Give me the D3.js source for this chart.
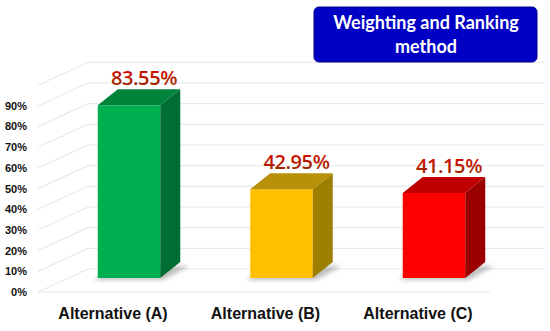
<!DOCTYPE html>
<html>
<head>
<meta charset="utf-8">
<script src="https://cdn.jsdelivr.net/npm/d3@7"></script>
<style>
	body { margin: 0; background: #fff; }
	svg { display: block; }
</style>
</head>
<body>
<div id="viz"></div>
<script>
var categories = ['Alternative (A)', 'Alternative (B)', 'Alternative (C)'];
var scores = [0.8355, 0.4295, 0.4115];
var tick_values = [0, 0.1, 0.2, 0.3, 0.4, 0.5, 0.6, 0.7, 0.8, 0.9];
var wall_values = [0, 0.1, 0.2, 0.3, 0.4, 0.5, 0.6, 0.7, 0.8, 0.9, 1];
var title_lines = ['Weighting and Ranking', 'method'];

var w = 550,
	h = 331,
	depth_x = 20,
	depth_y = -16,
	wall_dx = 50,
	wall_dy = -23;

var bar_colors = [
	{front: '#00b050', top: '#00843c', side: '#006e32'},
	{front: '#ffc000', top: '#b8900a', side: '#9e7f00'},
	{front: '#ff0000', top: '#c00000', side: '#9a0000'}
];

var svg = d3.select('#viz').append('svg')
	.attr('width', w)
	.attr('height', h);

var defs = svg.append('defs');
var grad = defs.append('linearGradient')
	.attr('id', 'labelGrad')
	.attr('x1', 0).attr('y1', 0).attr('x2', 0).attr('y2', 1);
grad.append('stop').attr('offset', '0%').attr('stop-color', '#e80000');
grad.append('stop').attr('offset', '100%').attr('stop-color', '#8a3300');
defs.append('filter')
	.attr('id', 'blur')
	.attr('x', '-20%').attr('y', '-50%').attr('width', '140%').attr('height', '200%')
	.append('feGaussianBlur').attr('stdDeviation', 2);

// front plane (axis labels) and back wall share one scale, just shifted
var y = d3.scaleLinear().domain([0, 1]).range([292, 85.3]);
var yBar = function(v){ return y(v) - 14; };
var yWall = function(v){ return y(v) + wall_dy; };

var x = d3.scaleBand()
	.domain(categories)
	.range([52, 511])
	.paddingInner(0.59)
	.paddingOuter(0.3);

var floor_left = 38,
	floor_right = 490,
	wall_right = 545;

//GRID
var grid = svg.append('g').attr('class', 'grid')
	.attr('stroke', '#e8eaec')
	.attr('stroke-width', 1.2)
	.attr('fill', 'none');

grid.selectAll('.wall-line')
	.data(wall_values)
	.enter().append('line')
		.attr('class', 'wall-line')
		.attr('x1', floor_left + wall_dx)
		.attr('x2', wall_right)
		.attr('y1', function(d){ return yWall(d); })
		.attr('y2', function(d){ return yWall(d); });

grid.selectAll('.side-line')
	.data(wall_values)
	.enter().append('line')
		.attr('class', 'side-line')
		.attr('x1', floor_left)
		.attr('x2', floor_left + wall_dx)
		.attr('y1', function(d){ return y(d); })
		.attr('y2', function(d){ return yWall(d); });

grid.append('line')
	.attr('x1', floor_left)
	.attr('x2', floor_right)
	.attr('y1', y(0))
	.attr('y2', y(0));

//Y LABELS
svg.append('g').selectAll('text')
	.data(tick_values)
	.enter().append('text')
		.attr('x', 27)
		.attr('y', function(d){ return y(d); })
		.attr('dy', '0.35em')
		.attr('text-anchor', 'end')
		.style('font-family', 'Liberation Sans, Arial, sans-serif')
		.style('font-weight', 'bold')
		.style('font-size', '11px')
		.attr('fill', '#111')
		.text(function(d){ return d3.format('.0%')(d); });

//BARS
var bars = svg.selectAll('.bar')
	.data(categories)
	.enter().append('g')
		.attr('class', 'bar');

bars.append('polygon')
	.attr('class', 'shadow')
	.attr('fill', '#8c8c8c')
	.attr('opacity', 0.55)
	.attr('filter', 'url(#blur)')
	.attr('points', function(d){
		var x0 = x(d), x1 = x(d) + x.bandwidth(), b = yBar(0) + 2;
		return [[x0 - 4, b], [x1 + 3, b], [x1 + depth_x + 9, b + depth_y + 2], [x0 + depth_x, b + depth_y + 2]].join(' ');
	});

bars.append('rect')
	.attr('class', 'front')
	.attr('x', function(d){ return x(d); })
	.attr('y', function(d,i){ return yBar(scores[i]); })
	.attr('width', x.bandwidth())
	.attr('height', function(d,i){ return yBar(0) - yBar(scores[i]); })
	.attr('fill', function(d,i){ return bar_colors[i].front; });

bars.append('polygon')
	.attr('class', 'top')
	.attr('fill', function(d,i){ return bar_colors[i].top; })
	.attr('points', function(d,i){
		var x0 = x(d), x1 = x(d) + x.bandwidth(), t = yBar(scores[i]);
		return [[x0, t], [x1, t], [x1 + depth_x, t + depth_y], [x0 + depth_x, t + depth_y]].join(' ');
	});

bars.append('polygon')
	.attr('class', 'side')
	.attr('fill', function(d,i){ return bar_colors[i].side; })
	.attr('points', function(d,i){
		var x1 = x(d) + x.bandwidth(), t = yBar(scores[i]), b = yBar(0);
		return [[x1, t], [x1 + depth_x, t + depth_y], [x1 + depth_x, b + depth_y], [x1, b]].join(' ');
	});

bars.append('text')
	.attr('class', 'value')
	.attr('x', function(d){ return x(d) + x.bandwidth() / 2 + depth_x / 2 + 5; })
	.attr('y', function(d,i){ return yBar(scores[i]) + depth_y - 4; })
	.attr('text-anchor', 'middle')
	.style('font-family', '"Open Sans", Lato, sans-serif')
	.style('font-weight', 600)
	.style('font-size', '20px')
	.style('letter-spacing', '-0.4px')
	.attr('fill', 'url(#labelGrad)')
	.text(function(d,i){ return d3.format('.2%')(scores[i]); });

//X LABELS
svg.append('g').selectAll('text')
	.data(categories)
	.enter().append('text')
		.attr('x', function(d){ return x(d) + x.bandwidth() / 2 - 16; })
		.attr('y', 319)
		.attr('text-anchor', 'middle')
		.style('font-family', 'Liberation Sans, Arial, sans-serif')
		.style('font-weight', 'bold')
		.style('font-size', '16px')
		.attr('fill', '#111')
		.text(function(d){ return d; });

//TITLE BOX
var title = svg.append('g').attr('class', 'title');
title.append('rect')
	.attr('x', 314)
	.attr('y', 7)
	.attr('width', 223)
	.attr('height', 55)
	.attr('rx', 5)
	.attr('fill', '#0000c4')
	.attr('stroke', '#00008a')
	.attr('stroke-width', 1);
title.selectAll('text')
	.data(title_lines)
	.enter().append('text')
		.attr('x', 426)
		.attr('y', function(d,i){ return 29 + i * 24; })
		.attr('text-anchor', 'middle')
		.style('font-family', 'Lato, "Open Sans", sans-serif')
		.style('font-weight', 'bold')
		.style('font-size', '18px')
		.attr('fill', '#fff')
		.text(function(d){ return d; });
</script>
</body>
</html>
